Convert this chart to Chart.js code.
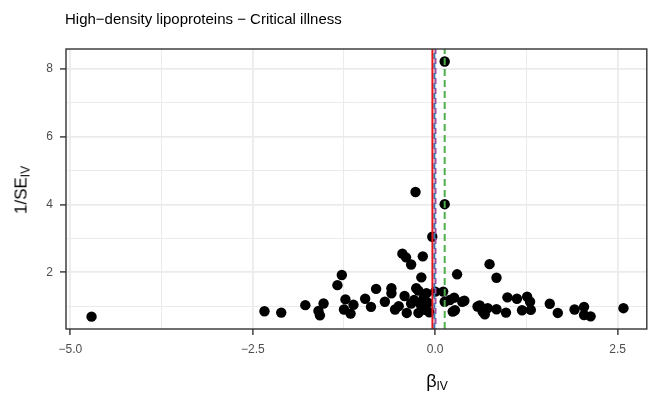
<!DOCTYPE html>
<html>
<head>
<meta charset="utf-8">
<script src="https://cdn.jsdelivr.net/npm/chart.js@4.4.1/dist/chart.umd.min.js"></script>
<style>
    body { margin: 0; background: #fff; font-family: "Liberation Sans", Arial, sans-serif; }
    #wrap { position: relative; width: 652px; height: 399px; }
    #plotTitle { position: absolute; left: 65px; top: 10px; font-size: 15px; color: #000; white-space: nowrap; }
    #yTitle { position: absolute; left: 22px; top: 190px; transform: translate(-50%, -50%) rotate(-90deg); font-size: 17px; white-space: nowrap; }
    #xTitle { position: absolute; left: 437px; top: 382px; transform: translate(-50%, -50%); font-size: 18px; white-space: nowrap; }
    sub { font-size: 12px; vertical-align: -3px; }
</style>
</head>
<body>
<div id="wrap">
    <canvas id="funnelChart" width="652" height="399"></canvas>
    <div id="plotTitle">High−density lipoproteins − Critical illness</div>
    <div id="yTitle">1/SE<sub>IV</sub></div>
    <div id="xTitle">β<sub>IV</sub></div>
</div>
<script>
// SNP-level estimates (beta IV) and precision (1/SE IV)
const betaIV = [
    -4.71, -2.34, -2.11, -1.78, -1.53, -1.58, -1.60, -1.34, -1.28, -1.23,
    -1.25, -1.16, -1.12, -0.96, -0.88, -0.81, -0.69, -0.60, -0.60, -0.55,
    -0.50, -0.45, -0.40, -0.42, -0.39, -0.33, -0.33, -0.29, -0.27, -0.26,
    -0.23, -0.23, -0.20, -0.19, -0.17, -0.16, -0.14, -0.12, -0.10, -0.08,
    -0.04, 0.00, 0.11, 0.13, 0.13, 0.13, 0.20, 0.24, 0.26, 0.27,
    0.30, 0.37, 0.40, 0.58, 0.61, 0.65, 0.68, 0.72, 0.745, 0.84,
    0.84, 0.97, 0.99, 1.12, 1.19, 1.26, 1.30, 1.31, 1.57, 1.68,
    1.91, 2.04, 2.04, 2.13, 2.58
];
const invSE = [
    0.69, 0.85, 0.81, 1.03, 1.08, 0.73, 0.86, 1.62, 1.92, 1.20,
    0.90, 0.78, 1.04, 1.22, 0.98, 1.51, 1.13, 1.53, 1.38, 0.90,
    1.00, 2.55, 2.44, 1.30, 0.80, 2.23, 1.08, 1.18, 4.37, 1.53,
    1.46, 0.80, 1.05, 1.85, 2.47, 1.23, 0.89, 1.38, 1.10, 0.82,
    3.05, 1.43, 1.43, 8.22, 4.01, 1.13, 1.18, 0.84, 1.25, 0.88,
    1.94, 1.13, 1.16, 0.99, 1.02, 0.84, 0.76, 0.94, 2.24, 1.84,
    0.91, 0.81, 1.26, 1.22, 0.88, 1.28, 1.13, 0.89, 1.07, 0.80,
    0.90, 0.98, 0.74, 0.70, 0.94
];

// pooled estimates (vertical lines)
const methodNames = ["IVW", "MR-Egger", "Weighted median", "Weighted mode"];
const methodBeta = [-0.038, -0.012, 0.004, 0.13];
const methodColors = ["#E41A1C", "#377EB8", "#984EA3", "#4DAF4A"];
const methodDash = [[], [6, 4], [6, 4], [7, 4]];

// axes
const xMajor = [-5, -2.5, 0, 2.5];
const xMajorLabels = ["−5.0", "−2.5", "0.0", "2.5"];
const xMinor = [-3.75, -1.25, 1.25];
const yMajor = [2, 4, 6, 8];
const yMajorLabels = ["2", "4", "6", "8"];
const yMinor = [1, 3, 5, 7];
const xLimits = [-5.06, 2.90];
const yLimits = [0.326, 8.59];

function majorIndex(list, v) {
    return list.findIndex(m => Math.abs(m - v) < 1e-9);
}

// panel border like theme_bw
const panelBorder = {
    id: "panelBorder",
    afterDraw(chart) {
        const a = chart.chartArea;
        const ctx = chart.ctx;
        ctx.save();
        ctx.strokeStyle = "#333333";
        ctx.lineWidth = 1.4;
        ctx.strokeRect(a.left, a.top, a.right - a.left, a.bottom - a.top);
        ctx.restore();
    }
};

const datasets = [];
methodBeta.forEach((b, i) => {
    datasets.push({
        label: methodNames[i],
        data: [{ x: b, y: yLimits[0] }, { x: b, y: yLimits[1] }],
        showLine: true,
        borderColor: methodColors[i],
        borderWidth: 2,
        borderDash: methodDash[i],
        borderDashOffset: i === 2 ? 5 : 0,
        pointRadius: 0
    });
});
datasets.push({
    label: "SNPs",
    data: betaIV.map((b, i) => ({ x: b, y: invSE[i] })),
    backgroundColor: "#000000",
    borderColor: "#000000",
    pointRadius: 5.2,
    pointBorderWidth: 0
});

const tickFont = { family: "'Liberation Sans', Arial, sans-serif", size: 12 };

new Chart(document.getElementById("funnelChart"), {
    type: "scatter",
    data: { datasets: datasets },
    options: {
        responsive: false,
        animation: false,
        layout: { padding: { left: 0, right: 3, top: 49, bottom: 0 } },
        plugins: { legend: { display: false }, tooltip: { enabled: false } },
        scales: {
            x: {
                type: "linear",
                min: xLimits[0],
                max: xLimits[1],
                afterBuildTicks: axis => {
                    axis.ticks = xMajor.concat(xMinor).sort((a, b) => a - b).map(v => ({ value: v }));
                },
                afterFit: axis => { axis.height = 70; },
                ticks: {
                    color: "#4D4D4D",
                    font: tickFont,
                    padding: 7,
                    maxRotation: 0,
                    autoSkip: false,
                    callback: v => {
                        const k = majorIndex(xMajor, v);
                        return k >= 0 ? xMajorLabels[k] : "";
                    }
                },
                grid: {
                    color: "#EBEBEB",
                    lineWidth: ctx => majorIndex(xMajor, ctx.tick.value) >= 0 ? 1.8 : 1.0,
                    tickColor: ctx => majorIndex(xMajor, ctx.tick.value) >= 0 ? "#333333" : "rgba(0,0,0,0)",
                    tickLength: 6,
                    tickWidth: 1.4
                },
                border: { display: false }
            },
            y: {
                type: "linear",
                min: yLimits[0],
                max: yLimits[1],
                afterBuildTicks: axis => {
                    axis.ticks = yMajor.concat(yMinor).sort((a, b) => a - b).map(v => ({ value: v }));
                },
                afterFit: axis => { axis.width = 66; },
                ticks: {
                    color: "#4D4D4D",
                    font: tickFont,
                    padding: 7,
                    autoSkip: false,
                    callback: v => {
                        const k = majorIndex(yMajor, v);
                        return k >= 0 ? yMajorLabels[k] : "";
                    }
                },
                grid: {
                    color: "#EBEBEB",
                    lineWidth: ctx => majorIndex(yMajor, ctx.tick.value) >= 0 ? 1.8 : 1.0,
                    tickColor: ctx => majorIndex(yMajor, ctx.tick.value) >= 0 ? "#333333" : "rgba(0,0,0,0)",
                    tickLength: 6,
                    tickWidth: 1.4
                },
                border: { display: false }
            }
        }
    },
    plugins: [panelBorder]
});
</script>
</body>
</html>
